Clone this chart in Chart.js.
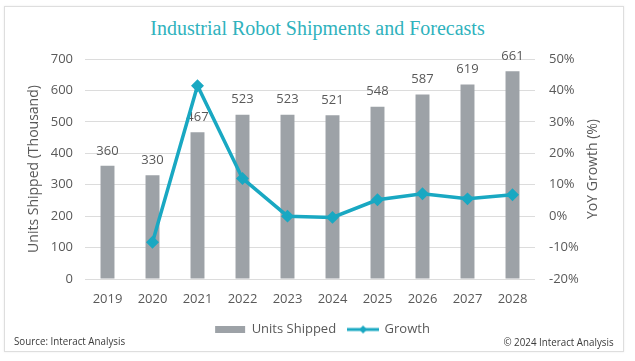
<!DOCTYPE html>
<html>
<head>
<meta charset="utf-8">
<script src="https://cdn.jsdelivr.net/npm/chart.js@4.4.0/dist/chart.umd.min.js"></script>
<style>
  html, body { margin: 0; padding: 0; background: #ffffff; }
  #wrap { position: relative; width: 635px; height: 361px; overflow: hidden; background: #fff; }
  #frame { position: absolute; left: 4px; top: 6px; width: 618px; height: 344px; border: 1px solid #dedede; box-shadow: 0 0 2px rgba(0,0,0,0.08); }
  #title { position: absolute; left: 0; width: 635px; top: 17px; text-align: center; font-family: "Liberation Serif", "DejaVu Serif", serif; font-size: 20px; color: #2fb2bd; }
  #src { position: absolute; left: 14px; top: 333px; font-family: "Open Sans", sans-serif; font-size: 11.5px; color: #3a3a3a; transform: scaleX(0.85); transform-origin: left center; white-space: nowrap; }
  #copy { position: absolute; right: 21px; top: 334px; font-family: "Open Sans", sans-serif; font-size: 11.5px; color: #3a3a3a; transform: scaleX(0.85); transform-origin: right center; white-space: nowrap; }
  canvas { position: absolute; left: 0; top: 0; }
</style>
</head>
<body>
<div id="wrap">
  <div id="frame"></div>
  <div id="title">Industrial Robot Shipments and Forecasts</div>
  <canvas id="c" width="635" height="361"></canvas>
  <div id="src">Source: Interact Analysis</div>
  <div id="copy">© 2024 Interact Analysis</div>
</div>
<script>
const years = ['2019','2020','2021','2022','2023','2024','2025','2026','2027','2028'];
const unitsShipped = [360, 330, 467, 523, 523, 521, 548, 587, 619, 661];
const growthPct = [null, -8.3, 41.5, 12.0, 0.0, -0.4, 5.2, 7.1, 5.5, 6.8];
const unitsAxis = { min: 0, max: 700, step: 100 };
const growthAxis = { min: -20, max: 50, step: 10 };

const barColor = '#9da2a7';
const lineColor = '#19a8c2';
const textColor = '#595959';
const font = '"Open Sans", "Noto Sans", sans-serif';

// legend icon for the line series
const icon = document.createElement('canvas');
icon.width = 32; icon.height = 10;
(function(){
  const g = icon.getContext('2d');
  g.strokeStyle = lineColor; g.lineWidth = 3;
  g.beginPath(); g.moveTo(0, 5); g.lineTo(32, 5); g.stroke();
  g.fillStyle = lineColor;
  g.beginPath(); g.moveTo(16, 1); g.lineTo(20, 5); g.lineTo(16, 9); g.lineTo(12, 5); g.closePath(); g.fill();
})();

const barLabels = {
  id: 'barLabels',
  afterDatasetDraw(chart, args) {
    if (args.index !== 0) return;
    const ctx = chart.ctx;
    ctx.save();
    ctx.font = '13px ' + font;
    ctx.fillStyle = textColor;
    ctx.textAlign = 'center';
    ctx.textBaseline = 'middle';
    args.meta.data.forEach((el, i) => {
      ctx.fillText(String(unitsShipped[i]), el.x, el.y - 15);
    });
    ctx.restore();
  }
};

// right axis title reading bottom-to-top, like the reference
const rightTitle = {
  id: 'rightTitle',
  afterDraw(chart) {
    const ctx = chart.ctx;
    const a = chart.chartArea;
    ctx.save();
    ctx.translate(593, (a.top + a.bottom) / 2);
    ctx.rotate(-Math.PI / 2);
    ctx.font = '14px ' + font;
    ctx.fillStyle = textColor;
    ctx.textAlign = 'center';
    ctx.textBaseline = 'middle';
    ctx.fillText('YoY Growth (%)', 0, 0);
    ctx.restore();
  }
};

new Chart(document.getElementById('c'), {
  data: {
    labels: years,
    datasets: [
      {
        type: 'bar', label: 'Units Shipped', data: unitsShipped, yAxisID: 'y',
        backgroundColor: barColor, categoryPercentage: 1.0, barPercentage: 0.31, order: 2
      },
      {
        type: 'line', label: 'Growth', data: growthPct, yAxisID: 'y1',
        borderColor: lineColor, backgroundColor: lineColor, borderWidth: 3.5,
        pointStyle: 'rectRot', pointRadius: 4, pointBackgroundColor: lineColor,
        pointBorderColor: lineColor, tension: 0, spanGaps: false, order: 1
      }
    ]
  },
  options: {
    responsive: false,
    animation: false,
    layout: { padding: { top: 59, left: 26, right: 16, bottom: 15 } },
    plugins: {
      tooltip: { enabled: false },
      legend: {
        position: 'bottom',
        labels: {
          usePointStyle: true, pointStyleWidth: 30, boxHeight: 7, padding: 12,
          color: textColor, font: { family: font, size: 13 },
          generateLabels: () => [
            { text: 'Units Shipped', fillStyle: barColor, strokeStyle: barColor, lineWidth: 0, pointStyle: 'rect', datasetIndex: 0, fontColor: textColor },
            { text: 'Growth', fillStyle: lineColor, strokeStyle: lineColor, lineWidth: 0, pointStyle: icon, datasetIndex: 1, fontColor: textColor }
          ]
        }
      }
    },
    scales: {
      x: {
        grid: { display: false, drawTicks: false },
        border: { display: false },
        ticks: { color: textColor, font: { family: font, size: 13 }, padding: 12 },
        afterFit: (s) => { s.height = 32; }
      },
      y: {
        position: 'left',
        min: unitsAxis.min, max: unitsAxis.max,
        ticks: { stepSize: unitsAxis.step, color: textColor, font: { family: font, size: 13 }, padding: 12 },
        grid: { color: '#dcdcdc', drawTicks: false, lineWidth: 1 },
        border: { display: false },
        title: { display: true, text: 'Units Shipped (Thousand)', color: textColor, font: { family: font, size: 14 }, padding: { top: 0, bottom: 4 } },
        afterFit: (s) => { s.width = 59; }
      },
      y1: {
        position: 'right',
        min: growthAxis.min, max: growthAxis.max,
        ticks: { stepSize: growthAxis.step, color: textColor, font: { family: font, size: 13 }, padding: 14, callback: (v) => v + '%' },
        grid: { display: false, drawTicks: false },
        border: { display: false },
        afterFit: (s) => { s.width = 84; }
      }
    }
  },
  plugins: [barLabels, rightTitle]
});
</script>
</body>
</html>
